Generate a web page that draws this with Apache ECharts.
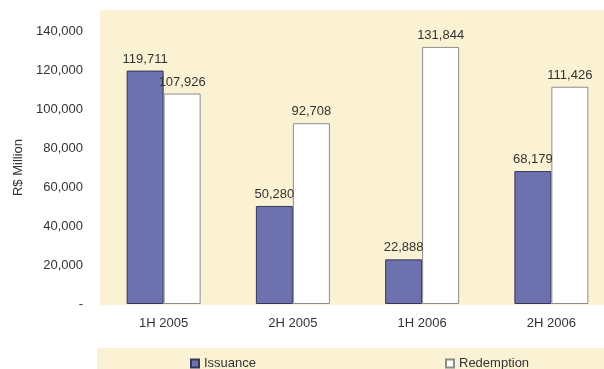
<!DOCTYPE html>
<html>
<head>
<meta charset="utf-8">
<script src="https://cdn.jsdelivr.net/npm/echarts@6/dist/echarts.min.js"></script>
<style>
  html, body { margin: 0; padding: 0; background: #ffffff; }
  #chart { width: 604px; height: 369px; }
</style>
</head>
<body>
<div id="chart"></div>
<script>
// Half-year periods
const categories = ['1H 2005', '2H 2005', '1H 2006', '2H 2006'];
// R$ million
const issuance = [119711, 50280, 22888, 68179];
const redemption = [107926, 92708, 131844, 111426];
// Value axis range
const yMin = 0;
const yMax = 140000;
const yStep = 20000;

const fmt = v => v === 0 ? '-' : v.toLocaleString('en-US');
const font = 'Liberation Sans, Arial, sans-serif';
const fs = 13;
const ink = '#333333';
const beige = '#FBF2D4';

const chart = echarts.init(document.getElementById('chart'));
chart.setOption({
  animation: false,
  backgroundColor: '#ffffff',
  graphic: [
    { type: 'rect', z: -10, silent: true, shape: { x: 100, y: 10, width: 504, height: 295 }, style: { fill: beige } },
    { type: 'rect', z: -10, silent: true, shape: { x: 97, y: 348, width: 507, height: 21 }, style: { fill: beige } }
  ],
  // plot area runs a little past the right edge of the canvas
  grid: { left: 99, width: 517, top: 31, bottom: 65, containLabel: false, outerBoundsMode: 'none' },
  legend: [
    {
      data: ['Issuance'], left: 190, top: 357, padding: 0, itemWidth: 8, itemHeight: 8, icon: 'rect',
      textStyle: { fontFamily: font, fontSize: fs, color: ink }
    },
    {
      data: ['Redemption'], left: 445, top: 357, padding: 0, itemWidth: 8, itemHeight: 8, icon: 'rect',
      textStyle: { fontFamily: font, fontSize: fs, color: ink }
    }
  ],
  xAxis: {
    type: 'category',
    data: categories,
    axisLine: { show: false },
    axisTick: { show: false },
    axisLabel: { margin: 13, fontFamily: font, fontSize: fs, color: ink }
  },
  yAxis: {
    type: 'value',
    min: yMin, max: yMax, interval: yStep,
    name: 'R$ Million',
    nameLocation: 'middle',
    nameRotate: 90,
    nameGap: 72,
    nameTextStyle: { fontFamily: font, fontSize: fs, color: ink },
    splitLine: { show: false },
    axisLine: { show: false },
    axisTick: { show: false },
    axisLabel: { margin: 16, fontFamily: font, fontSize: fs, color: ink, formatter: fmt }
  },
  series: [
    {
      name: 'Issuance', type: 'bar', data: issuance,
      barWidth: 37, barGap: '0%',
      itemStyle: { color: '#6D72AF', borderColor: '#34365A', borderWidth: 1 },
      label: { show: true, position: 'top', distance: 5, fontFamily: font, fontSize: fs, color: ink, formatter: p => fmt(p.value) }
    },
    {
      name: 'Redemption', type: 'bar', data: redemption,
      barWidth: 37,
      itemStyle: { color: '#ffffff', borderColor: '#8C8C8C', borderWidth: 1 },
      label: { show: true, position: 'top', distance: 5, fontFamily: font, fontSize: fs, color: ink, formatter: p => fmt(p.value) }
    }
  ]
});
</script>
</body>
</html>
